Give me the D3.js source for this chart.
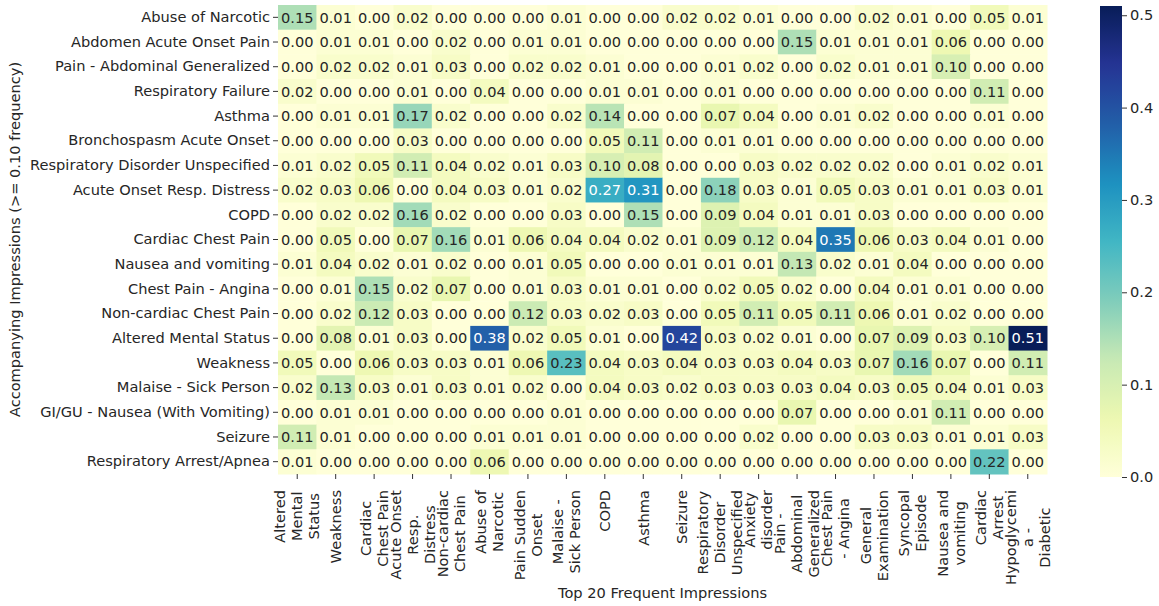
<!DOCTYPE html>
<html>
<head>
<meta charset="utf-8">
<script src="https://cdn.jsdelivr.net/npm/d3@7"></script>
<style>
    body { margin: 0; background: #fff; }
    text { font-family: "DejaVu Sans", sans-serif; }
</style>
</head>
<body>
<svg id="chart" width="1159" height="606"></svg>
<script>
// DATA
const rowLabels = [
    'Abuse of Narcotic', 'Abdomen Acute Onset Pain', 'Pain - Abdominal Generalized',
    'Respiratory Failure', 'Asthma', 'Bronchospasm Acute Onset',
    'Respiratory Disorder Unspecified', 'Acute Onset Resp. Distress', 'COPD',
    'Cardiac Chest Pain', 'Nausea and vomiting', 'Chest Pain - Angina',
    'Non-cardiac Chest Pain', 'Altered Mental Status', 'Weakness',
    'Malaise - Sick Person', 'GI/GU - Nausea (With Vomiting)', 'Seizure',
    'Respiratory Arrest/Apnea'
];

// column tick labels, already wrapped the way they appear
const colLabels = [
    ['Altered', 'Mental', 'Status'],
    ['Weakness'],
    ['Cardiac', 'Chest Pain'],
    ['Acute Onset', 'Resp.', 'Distress'],
    ['Non-cardiac', 'Chest Pain'],
    ['Abuse of', 'Narcotic'],
    ['Pain Sudden', 'Onset'],
    ['Malaise -', 'Sick Person'],
    ['COPD'],
    ['Asthma'],
    ['Seizure'],
    ['Respiratory', 'Disorder', 'Unspecified'],
    ['Anxiety', 'disorder'],
    ['Pain -', 'Abdominal', 'Generalized'],
    ['Chest Pain', '- Angina'],
    ['General', 'Examination'],
    ['Syncopal', 'Episode'],
    ['Nausea and', 'vomiting'],
    ['Cardiac', 'Arrest'],
    ['Hypoglycemi', 'a -', 'Diabetic']
];

const values = [
    [0.15, 0.01, 0.00, 0.02, 0.00, 0.00, 0.00, 0.01, 0.00, 0.00, 0.02, 0.02, 0.01, 0.00, 0.00, 0.02, 0.01, 0.00, 0.05, 0.01],
    [0.00, 0.01, 0.01, 0.00, 0.02, 0.00, 0.01, 0.01, 0.00, 0.00, 0.00, 0.00, 0.00, 0.15, 0.01, 0.01, 0.01, 0.06, 0.00, 0.00],
    [0.00, 0.02, 0.02, 0.01, 0.03, 0.00, 0.02, 0.02, 0.01, 0.00, 0.00, 0.01, 0.02, 0.00, 0.02, 0.01, 0.01, 0.10, 0.00, 0.00],
    [0.02, 0.00, 0.00, 0.01, 0.00, 0.04, 0.00, 0.00, 0.01, 0.01, 0.00, 0.01, 0.00, 0.00, 0.00, 0.00, 0.00, 0.00, 0.11, 0.00],
    [0.00, 0.01, 0.01, 0.17, 0.02, 0.00, 0.00, 0.02, 0.14, 0.00, 0.00, 0.07, 0.04, 0.00, 0.01, 0.02, 0.00, 0.00, 0.01, 0.00],
    [0.00, 0.00, 0.00, 0.03, 0.00, 0.00, 0.00, 0.00, 0.05, 0.11, 0.00, 0.01, 0.01, 0.00, 0.00, 0.00, 0.00, 0.00, 0.00, 0.00],
    [0.01, 0.02, 0.05, 0.11, 0.04, 0.02, 0.01, 0.03, 0.10, 0.08, 0.00, 0.00, 0.03, 0.02, 0.02, 0.02, 0.00, 0.01, 0.02, 0.01],
    [0.02, 0.03, 0.06, 0.00, 0.04, 0.03, 0.01, 0.02, 0.27, 0.31, 0.00, 0.18, 0.03, 0.01, 0.05, 0.03, 0.01, 0.01, 0.03, 0.01],
    [0.00, 0.02, 0.02, 0.16, 0.02, 0.00, 0.00, 0.03, 0.00, 0.15, 0.00, 0.09, 0.04, 0.01, 0.01, 0.03, 0.00, 0.00, 0.00, 0.00],
    [0.00, 0.05, 0.00, 0.07, 0.16, 0.01, 0.06, 0.04, 0.04, 0.02, 0.01, 0.09, 0.12, 0.04, 0.35, 0.06, 0.03, 0.04, 0.01, 0.00],
    [0.01, 0.04, 0.02, 0.01, 0.02, 0.00, 0.01, 0.05, 0.00, 0.00, 0.01, 0.01, 0.01, 0.13, 0.02, 0.01, 0.04, 0.00, 0.00, 0.00],
    [0.00, 0.01, 0.15, 0.02, 0.07, 0.00, 0.01, 0.03, 0.01, 0.01, 0.00, 0.02, 0.05, 0.02, 0.00, 0.04, 0.01, 0.01, 0.00, 0.00],
    [0.00, 0.02, 0.12, 0.03, 0.00, 0.00, 0.12, 0.03, 0.02, 0.03, 0.00, 0.05, 0.11, 0.05, 0.11, 0.06, 0.01, 0.02, 0.00, 0.00],
    [0.00, 0.08, 0.01, 0.03, 0.00, 0.38, 0.02, 0.05, 0.01, 0.00, 0.42, 0.03, 0.02, 0.01, 0.00, 0.07, 0.09, 0.03, 0.10, 0.51],
    [0.05, 0.00, 0.06, 0.03, 0.03, 0.01, 0.06, 0.23, 0.04, 0.03, 0.04, 0.03, 0.03, 0.04, 0.03, 0.07, 0.16, 0.07, 0.00, 0.11],
    [0.02, 0.13, 0.03, 0.01, 0.03, 0.01, 0.02, 0.00, 0.04, 0.03, 0.02, 0.03, 0.03, 0.03, 0.04, 0.03, 0.05, 0.04, 0.01, 0.03],
    [0.00, 0.01, 0.01, 0.00, 0.00, 0.00, 0.00, 0.01, 0.00, 0.00, 0.00, 0.00, 0.00, 0.07, 0.00, 0.00, 0.01, 0.11, 0.00, 0.00],
    [0.11, 0.01, 0.00, 0.00, 0.00, 0.01, 0.01, 0.01, 0.00, 0.00, 0.00, 0.00, 0.02, 0.00, 0.00, 0.03, 0.03, 0.01, 0.01, 0.03],
    [0.01, 0.00, 0.00, 0.00, 0.00, 0.06, 0.00, 0.00, 0.00, 0.00, 0.00, 0.00, 0.00, 0.00, 0.00, 0.00, 0.00, 0.00, 0.22, 0.00]
];

const cbarTicks = [0.0, 0.1, 0.2, 0.3, 0.4, 0.5];

const xTitle = 'Top 20 Frequent Impressions';
const yTitle = 'Accompanying Impressions (>= 0.10 frequency)';

// SETTINGS
const plot = { left: 278, right: 1047, top: 5, bottom: 474 };
const cbar = { left: 1100, right: 1122, top: 6, bottom: 477 };
const fontSize = 14.6;
const lineStep = 17;
const tickLen = 5;
const textDark = '#262626';

// matplotlib YlGnBu (9 colorbrewer stops, linear)
const ylgnbu = ['#ffffd9', '#edf8b1', '#c7e9b4', '#7fcdbb', '#41b6c4',
                '#1d91c0', '#225ea8', '#253494', '#081d58'];
const vmax = d3.max(values.flat());
const color = d3.scaleLinear()
    .domain(ylgnbu.map((c, i) => i / (ylgnbu.length - 1) * vmax))
    .range(ylgnbu)
    .interpolate(d3.interpolateRgb)
    .clamp(true);

// seaborn picks white text on dark cells
const luminance = c => {
    const rgb = d3.rgb(c);
    const lin = v => {
        v /= 255;
        return v <= 0.03928 ? v / 12.92 : Math.pow((v + 0.055) / 1.055, 2.4);
    };
    return 0.2126 * lin(rgb.r) + 0.7152 * lin(rgb.g) + 0.0722 * lin(rgb.b);
};

const svg = d3.select('#chart');

const x = d3.scaleBand()
    .domain(d3.range(colLabels.length))
    .range([plot.left, plot.right]);
const y = d3.scaleBand()
    .domain(d3.range(rowLabels.length))
    .range([plot.top, plot.bottom]);

// cells
const cells = values.flatMap((row, r) => row.map((v, c) => ({ r, c, v })));

svg.append('g')
    .selectAll('rect')
    .data(cells)
    .join('rect')
        .attr('x', d => x(d.c))
        .attr('y', d => y(d.r))
        .attr('width', x.bandwidth() + 0.5)
        .attr('height', y.bandwidth() + 0.5)
        .attr('fill', d => color(d.v));

svg.append('g')
    .selectAll('text')
    .data(cells)
    .join('text')
        .attr('x', d => x(d.c) + x.bandwidth() / 2)
        .attr('y', d => y(d.r) + y.bandwidth() / 2)
        .attr('text-anchor', 'middle')
        .attr('dy', '0.36em')
        .attr('font-size', fontSize)
        .attr('fill', d => luminance(color(d.v)) > 0.408 ? textDark : '#ffffff')
        .text(d => d3.format('.2f')(d.v));

// y axis
const yAxis = svg.append('g')
    .attr('transform', `translate(${plot.left},0)`)
    .call(d3.axisLeft(y).tickSize(tickLen).tickPadding(3).tickFormat(i => rowLabels[i]));
yAxis.select('.domain').remove();
yAxis.selectAll('.tick line').attr('stroke', '#333');
yAxis.selectAll('.tick text')
    .attr('font-size', fontSize)
    .attr('font-family', '"DejaVu Sans", sans-serif')
    .attr('fill', textDark);

// x axis
const xAxis = svg.append('g')
    .attr('transform', `translate(0,${plot.bottom})`)
    .call(d3.axisBottom(x).tickSize(tickLen).tickFormat(''));
xAxis.select('.domain').remove();
xAxis.selectAll('.tick line').attr('stroke', '#333');
xAxis.selectAll('.tick text').remove();

const labelTop = 16;
xAxis.selectAll('.tick').each(function(i) {
    const lines = colLabels[i];
    const g = d3.select(this).append('g');
    const texts = g.selectAll('text')
        .data(lines)
        .join('text')
            .attr('font-size', fontSize)
            .attr('fill', textDark)
            .attr('text-anchor', 'middle')
            .attr('dy', '0.36em')
            .text(d => d);
    const len = d3.max(texts.nodes(), n => n.getComputedTextLength());
    texts.attr('transform', (d, k) => {
        const dx = (k - (lines.length - 1) / 2) * lineStep;
        return `translate(${dx},${labelTop + len / 2}) rotate(-90)`;
    });
});

// axis titles
svg.append('text')
    .attr('x', (plot.left + plot.right) / 2)
    .attr('y', 598)
    .attr('text-anchor', 'middle')
    .attr('font-size', fontSize)
    .attr('fill', textDark)
    .text(xTitle);

svg.append('text')
    .attr('transform', `translate(20,${(plot.top + plot.bottom) / 2}) rotate(-90)`)
    .attr('text-anchor', 'middle')
    .attr('font-size', fontSize)
    .attr('fill', textDark)
    .text(yTitle);

// colorbar
const defs = svg.append('defs');
const grad = defs.append('linearGradient')
    .attr('id', 'cbarGrad')
    .attr('x1', '0%').attr('x2', '0%')
    .attr('y1', '100%').attr('y2', '0%');
d3.range(0, 1.0001, 0.02).forEach(t => {
    grad.append('stop')
        .attr('offset', `${t * 100}%`)
        .attr('stop-color', color(t * vmax));
});

svg.append('rect')
    .attr('x', cbar.left)
    .attr('y', cbar.top)
    .attr('width', cbar.right - cbar.left)
    .attr('height', cbar.bottom - cbar.top)
    .attr('fill', 'url(#cbarGrad)');

const cScale = d3.scaleLinear()
    .domain([0, vmax])
    .range([cbar.bottom, cbar.top]);

const cAxis = svg.append('g')
    .attr('transform', `translate(${cbar.right},0)`)
    .call(d3.axisRight(cScale).tickValues(cbarTicks).tickSize(tickLen).tickPadding(3).tickFormat(d3.format('.1f')));
cAxis.select('.domain').remove();
cAxis.selectAll('.tick line').attr('stroke', '#333');
cAxis.selectAll('.tick text')
    .attr('font-size', fontSize)
    .attr('font-family', '"DejaVu Sans", sans-serif')
    .attr('fill', textDark);
</script>
</body>
</html>
